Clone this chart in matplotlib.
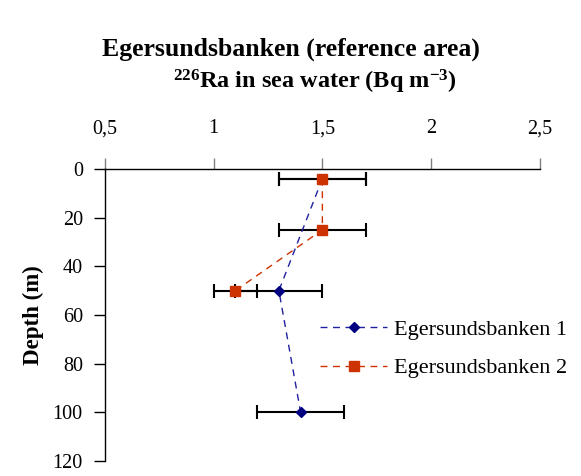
import numpy as np
import matplotlib
matplotlib.use('Agg')
import matplotlib.pyplot as plt
from matplotlib.ticker import FuncFormatter

plt.rcParams['font.family'] = ['Liberation Serif', 'DejaVu Serif']
plt.rcParams['mathtext.fontset'] = 'custom'
plt.rcParams['mathtext.rm'] = 'Liberation Serif:bold'
plt.rcParams['mathtext.bf'] = 'Liberation Serif:bold'
plt.rcParams['mathtext.default'] = 'rm'

# Egersundsbanken 1
depth1 = [4, 50, 100]
ra1 = [1.5, 1.3, 1.4]
err1 = [0.2, 0.2, 0.2]

# Egersundsbanken 2
depth2 = [4, 25, 50]
ra2 = [1.5, 1.5, 1.1]
err2 = [0.2, 0.2, 0.1]

xticks = [0.5, 1, 1.5, 2, 2.5]
yticks = [0, 20, 40, 60, 80, 100, 120]

fig = plt.figure(figsize=(5.81, 4.76), dpi=100)
ax = fig.add_axes([0.1807, 0.0315, 0.7483, 0.6135])

# error bars
ax.errorbar(ra1, depth1, xerr=err1, fmt='none', ecolor='black', elinewidth=1.5,
            capsize=5, capthick=1.5, zorder=2)
ax.errorbar(ra2, depth2, xerr=err2, fmt='none', ecolor='black', elinewidth=1.5,
            capsize=5, capthick=1.5, zorder=2)

ax.plot(ra1, depth1, linestyle=(0, (5, 4)), color='#2020a0', lw=1,
        marker='D', markersize=5, markerfacecolor='#000080', markeredgecolor='#000080',
        label='Egersundsbanken 1', zorder=3)
ax.plot(ra2, depth2, linestyle=(0, (5, 4)), color='#cc3300', lw=1,
        marker='s', markersize=7, markerfacecolor='#cc3300', markeredgecolor='#cc3300',
        label='Egersundsbanken 2', zorder=3)

ax.set_xlim(0.5, 2.5)
ax.set_ylim(120, 0)
ax.set_xticks(xticks)
ax.set_yticks(yticks)
ax.xaxis.set_major_formatter(FuncFormatter(lambda v, p: ('%g' % v).replace('.', ',')))
ax.xaxis.tick_top()
ax.tick_params(axis='x', direction='out', length=8, width=1, colors='#808080',
               labelcolor='black', labelsize=14.5, pad=14)
ax.tick_params(axis='y', direction='out', length=8, width=1, labelsize=14.5, pad=8)

for s in ['right', 'bottom']:
    ax.spines[s].set_visible(False)
ax.spines['top'].set_linewidth(1)
ax.spines['left'].set_linewidth(1)

ax.set_ylabel('Depth (m)', fontsize=16.5, fontweight='bold', labelpad=6)

fig.text(0.5, 0.897, 'Egersundsbanken (reference area)', ha='center', va='center',
         fontsize=18.5, fontweight='bold')
fig.text(0.542, 0.827, r'$^{226}$Ra in sea water (Bq m$^{-3}$)', ha='center', va='center',
         fontsize=17.5, fontweight='bold')

ax.legend(loc='center left', bbox_to_anchor=(0.495, 0.384), frameon=False, fontsize=16,
          handlelength=3.0, numpoints=1, labelspacing=0.8, handletextpad=0.3,
          borderaxespad=0, borderpad=0)

fig.savefig('out.png', dpi=100)
